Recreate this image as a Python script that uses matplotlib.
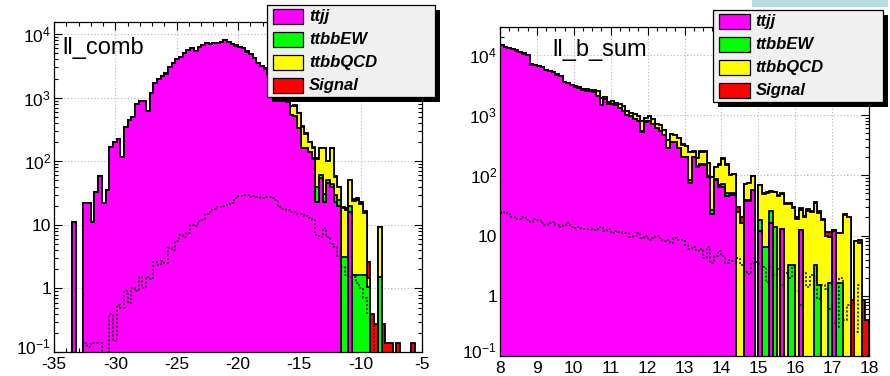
"""Stacked ttjj / ttbb / signal histograms, ROOT look, two log panels."""
import numpy as np
import matplotlib
matplotlib.use("agg")
import matplotlib.pyplot as plt
from matplotlib.patches import Rectangle
from matplotlib.transforms import ScaledTranslation
from matplotlib.ticker import FixedLocator, FixedFormatter, LogLocator, MultipleLocator, NullFormatter

plt.rcParams["font.family"] = ["Liberation Sans", "DejaVu Sans"]
plt.rcParams["mathtext.fontset"] = "custom"
plt.rcParams["mathtext.rm"] = "Liberation Sans"
plt.rcParams["mathtext.it"] = "Liberation Sans:italic"
plt.rcParams["mathtext.bf"] = "Liberation Sans:bold"

# ---------------------------------------------------------------------------
# Data (100 bins per panel)
# ---------------------------------------------------------------------------
SAMPLES = ["ttjj", "ttbbEW", "ttbbQCD", "Signal"]
COLORS = ["#ff00ff", "#00ff00", "#ffff00", "#ff0000"]

COMB_RANGE = (-35.0, -5.0)
COMB_TTJJ = [
    0, 0, 0, 0, 0, 11, 0, 0, 22, 22,
    11, 33, 58, 22, 35, 165, 200, 225, 117, 350,
    450, 500, 800, 900, 880, 620, 1200, 1700, 2000, 2200,
    2400, 3000, 3500, 4000, 4400, 5000, 5600, 6000, 5500, 6300,
    6700, 7200, 7100, 7200, 7300, 7600, 8000, 7500, 6900, 6600,
    6300, 6000, 5300, 4800, 4200, 3500, 3100, 2800, 2400, 2100,
    1800, 1450, 1150, 840, 540, 520, 330, 160, 160, 140,
    110, 23, 55, 23, 45, 40, 23, 20, 0, 0,
    16, 0, 0, 0, 0, 0, 0, 0, 0, 0,
    0, 0, 0, 0, 0, 0, 0, 0, 0, 0,
]
COMB_EW = [
    0, 0, 0, 0, 0, 0, 0, 0, 0, 0,
    0, 0, 0, 0, 0, 0, 0, 0, 0, 0,
    0, 0, 0, 0, 0, 0, 0, 0, 0, 0,
    0, 1, 1, 1, 1, 2, 2, 2, 2, 3,
    3, 3, 3, 4, 4, 4, 5, 5, 5, 5,
    6, 6, 6, 6, 6, 5, 5, 5, 5, 5,
    5, 5, 4, 3, 3, 3, 2, 2, 2, 2,
    3, 17, 5, 8, 5, 4, 7, 5, 3.1, 3.1,
    4, 1.6, 1.6, 1.6, 1.6, 1.07, 0, 0, 1.5, 0,
    0, 0, 0, 0, 0, 0, 0, 0, 0, 0,
]
COMB_QCD = [
    0, 0, 0, 0, 0, 0, 0, 0, 0, 0,
    0, 0, 0, 0, 0, 0, 0, 0, 0, 0,
    0, 0, 0, 0, 0, 0, 0, 0, 0, 0,
    1, 2, 2, 3, 3, 4, 5, 5, 6, 7,
    8, 9, 10, 11, 12, 14, 15, 16, 18, 20,
    22, 25, 30, 35, 45, 60, 80, 90, 100, 110,
    150, 180, 200, 20, 200, 230, 240, 190, 110, 60,
    50, 70, 100, 130, 50, 115, 27, 14, 15, 14,
    30, 22, 23, 20, 14, 0.4, 0, 0, 7.9, 0,
    0, 0, 0, 0, 0, 0, 0, 0, 0, 0,
]
COMB_SIG = [
    0, 0, 0, 0, 0, 0, 0, 0, 0, 0,
    0, 0, 0, 0, 0, 0, 0, 0, 0, 0,
    0, 0, 0, 0, 0, 0, 0, 0, 0, 0,
    0, 0, 0, 0, 0, 0, 0, 0, 0, 0,
    0, 0, 0, 0, 0, 0.3, 0.3, 0.4, 0.4, 0.5,
    0.5, 0.6, 0.6, 0.7, 0.8, 0.9, 1, 1, 1.2, 1.2,
    1.3, 1.4, 1.5, 1.5, 1, 1, 2, 2, 2, 2,
    2, 2, 3, 3, 2, 4, 2, 1, 1, 1,
    1, 1.5, 1.5, 1.2, 1.2, 1.1, 0.4, 0.28, 0, 0.28,
    0.14, 0.14, 0, 0.14, 0, 0, 0, 0.14, 0, 0,
]
COMB_DOTTED = [
    0, 0, 0, 0, 0, 0, 0, 0, 0.14, 0.12,
    0.14, 0.14, 0.14, 0, 0, 0.4, 0.15, 0.55, 0.5, 0.9,
    0.6, 1.0, 0.9, 1.5, 1.0, 1.5, 1.4, 2.6, 2.3, 2.7,
    2.5, 4.3, 4.0, 5.5, 7.0, 6.5, 7.5, 10, 9.5, 11.5,
    12, 15, 16, 18, 19, 19, 20, 21, 22, 26,
    28, 30, 29, 27, 28, 27, 26, 27, 27, 26,
    25, 19, 18, 17, 16, 16, 15, 15, 14, 13,
    12, 6.8, 6.5, 9, 6.5, 5, 4.5, 3.2, 2.2, 1.6,
    1.5, 1.5, 1.2, 1.0, 0.7, 0.4, 0.3, 0, 0, 0,
    0, 0, 0, 0, 0, 0, 0, 0, 0, 0,
]

BSUM_RANGE = (8.0, 18.0)
BSUM_TTJJ = [
    14500, 13500, 13000, 12300, 11800, 11000, 10500, 9800, 6900, 6700,
    6500, 6200, 5600, 5400, 5100, 4700, 4500, 3500, 3400, 3100,
    2950, 2800, 2600, 2500, 2500, 2450, 2100, 1450, 1850, 1550,
    1500, 1450, 1300, 1150, 1000, 950, 850, 800, 530, 780,
    800, 700, 600, 550, 470, 280, 360, 360, 280, 200,
    200, 75, 200, 138, 150, 150, 93, 23, 83, 65,
    65, 45, 47, 47, 0, 0, 38, 38, 57, 0,
    12, 0, 0, 16, 0, 0, 13, 0, 0, 0,
    0, 12.5, 0, 0, 0, 0, 0, 0, 0, 0,
    12, 0, 0, 0, 0, 0, 0, 0, 0, 0,
]
BSUM_EW = [
    30, 28, 27, 26, 25, 24, 23, 22, 20, 19,
    18, 17, 16, 15, 14, 13, 12, 11, 10, 10,
    9, 9, 8, 8, 8, 7, 7, 7, 6, 6,
    6, 6, 5, 5, 5, 5, 4, 4, 4, 4,
    4, 4, 3, 3, 3, 3, 3, 3, 3, 3,
    3, 9, 3, 3, 3, 3, 5, 4, 5, 3,
    6, 5, 3, 3, 0, 0, 1, 1, 1, 0,
    6, 6.5, 6.5, 10, 14, 0, 0, 0, 3.3, 3.2,
    0, 0, 0, 0, 0, 3.2, 1.5, 0, 0, 1.6,
    0, 1.6, 1.6, 0, 0, 0, 0, 0, 0, 0,
]
BSUM_QCD = [
    40, 40, 38, 36, 35, 34, 32, 30, 28, 27,
    26, 25, 24, 23, 22, 21, 20, 19, 18, 17,
    60, 70, 150, 200, 120, 150, 400, 450, 150, 120,
    200, 150, 200, 250, 150, 120, 200, 150, 250, 100,
    150, 150, 100, 120, 100, 100, 120, 100, 130, 120,
    100, 160, 45, 52, 95, 95, 62, 67, 50, 82,
    119, 100, 50, 55, 25, 16, 32, 35, 40, 0,
    50, 42, 45, 27, 38, 46, 36, 34, 30, 25,
    19, 14, 20, 26, 25, 31, 22, 18, 10, 8,
    0.5, 9.5, 9.5, 22, 20, 0, 8, 7.5, 0, 0,
]
BSUM_SIG = [
    5, 5, 5, 5, 5, 4, 4, 4, 4, 4,
    4, 4, 3, 3, 3, 3, 3, 3, 3, 3,
    3, 3, 3, 3, 3, 3, 3, 2, 2, 2,
    2, 2, 2, 2, 2, 2, 2, 2, 2, 2,
    2, 2, 2, 2, 2, 2, 2, 2, 2, 2,
    2, 2, 2, 2, 2, 2, 1.5, 1.5, 1.5, 1.5,
    1.5, 1.5, 1.5, 1.5, 5, 4, 1, 1, 1, 0,
    2, 2, 1.5, 1, 1.5, 2, 1, 1, 2, 2,
    1, 2, 1, 2, 1, 2, 2, 0.5, 1.5, 2,
    0, 0, 0, 1, 0, 0.85, 0.2, 0.8, 0.85, 0.4,
]
BSUM_DOTTED = [
    24, 25, 23, 20, 19, 19, 20, 18, 17, 19,
    18, 16, 15, 16, 17, 15, 14, 15, 16, 14,
    13.5, 14, 13, 13, 13, 12.5, 13, 14, 12, 13,
    11, 12, 11.5, 11, 11, 9.5, 10, 11, 9, 10,
    8.5, 9, 10, 9, 8, 8.5, 7.5, 9, 8.5, 8.5,
    7, 6, 6.5, 5.5, 6, 4.3, 6.5, 3.5, 4.5, 5.5,
    4.5, 3.5, 4, 3.8, 4.2, 3.3, 2.5, 2.3, 3.5, 3.6,
    3.4, 3.0, 1.7, 3.0, 2.2, 2.8, 1.5, 2.4, 2.0, 3.0,
    1.2, 0.7, 2.5, 1.4, 2.2, 1.3, 0.9, 1.5, 1.3, 0.6,
    0.35, 0.3, 2.0, 0.4, 0.7, 0, 0.25, 1.5, 0, 0,
]

YTICKS = [0.1, 1, 10, 100, 1000, 10000]
YTICK_LABELS = [r"$10^{-1}$", "1", "10", r"$10^{2}$", r"$10^{3}$", r"$10^{4}$"]
COMB_XTICKS = [-35, -30, -25, -20, -15, -10, -5]
BSUM_XTICKS = [8, 9, 10, 11, 12, 13, 14, 15, 16, 17, 18]

W, H = 890, 376
FLOOR = 1e-4


def fig_rect(x0, y0, x1, y1):
    """Pixel box (top-left origin) -> figure fraction rect."""
    return [x0 / W, 1 - y1 / H, (x1 - x0) / W, (y1 - y0) / H]


def draw_panel(ax, xrange, layers, dotted, label, label_xy, ytop, xticks, xminor):
    edges = np.linspace(xrange[0], xrange[1], len(dotted) + 1)
    tops = np.cumsum(np.array(layers, dtype=float), axis=0)
    for top, color in reversed(list(zip(tops, COLORS))):
        v = np.where(top > 0, top, FLOOR)
        ax.stairs(v, edges, baseline=FLOOR, fill=True, color=color, zorder=2)
        ax.stairs(v, edges, baseline=FLOOR, color="black", lw=1.3, zorder=2)
    d = np.asarray(dotted, dtype=float)
    ax.stairs(np.where(d > 0, d, FLOOR), edges, baseline=None, color="black",
              lw=1.1, ls=(0, (1.3, 1.3)), zorder=3)

    ax.set_yscale("log")
    ax.set_xlim(*xrange)
    ax.set_ylim(0.1, ytop)
    ax.yaxis.set_major_locator(FixedLocator(YTICKS))
    ax.yaxis.set_major_formatter(FixedFormatter(YTICK_LABELS))
    ax.yaxis.set_minor_locator(LogLocator(base=10, subs=np.arange(2, 10)))
    ax.yaxis.set_minor_formatter(NullFormatter())
    ax.xaxis.set_major_locator(FixedLocator(xticks))
    ax.xaxis.set_major_formatter(FixedFormatter([f"{t:g}" for t in xticks]))
    ax.xaxis.set_minor_locator(MultipleLocator(xminor))
    ax.tick_params(which="both", direction="in", top=True, right=True,
                   labelsize=12.5, width=0.8)
    ax.tick_params(which="major", length=6)
    ax.tick_params(which="minor", length=3)
    ax.tick_params(axis="x", pad=3.5)
    ax.tick_params(axis="y", pad=2)
    ax.set_axisbelow(True)
    ax.grid(True, which="major", color="#b4b4b4", ls=(0, (1, 2)), lw=0.8)
    for s in ax.spines.values():
        s.set_linewidth(0.9)
    ax.text(label_xy[0], label_xy[1], label, transform=ax.transAxes,
            fontsize=17, va="top", ha="left", zorder=4)
    # lift the bottom decade label a little so it clears the x labels
    low = ax.get_yticklabels()[0]
    low.set_transform(low.get_transform() + ScaledTranslation(0, 4 / 72, ax.figure.dpi_scale_trans))


def draw_legend(fig, box):
    lax = fig.add_axes(fig_rect(*box), zorder=10)
    lax.set_axis_off()
    w = box[2] - box[0]
    h = box[3] - box[1]
    lax.add_patch(Rectangle((5 / w, -5 / h), 1, 1, transform=lax.transAxes,
                            facecolor="black", edgecolor="none", clip_on=False))
    lax.add_patch(Rectangle((0, 0), 1, 1, transform=lax.transAxes,
                            facecolor="#f0f0f0", edgecolor="black", lw=0.9,
                            clip_on=False))
    for k, (name, color) in enumerate(zip(SAMPLES, COLORS)):
        yc = 0.875 - 0.25 * k
        lax.add_patch(Rectangle((0.036, yc - 0.085), 0.18, 0.17,
                                transform=lax.transAxes, facecolor=color,
                                edgecolor="black", lw=0.9, clip_on=False))
        lax.text(0.25, yc, name, transform=lax.transAxes, fontsize=12,
                 fontweight="bold", fontstyle="italic", va="center", ha="left")


fig = plt.figure(figsize=(W / 100, H / 100), dpi=100)
fig.patch.set_facecolor("white")

ax1 = fig.add_axes(fig_rect(54, 22, 422, 352))
draw_panel(ax1, COMB_RANGE, [COMB_TTJJ, COMB_EW, COMB_QCD, COMB_SIG], COMB_DOTTED,
           "ll_comb", (0.024, 0.955), 1.55e4, COMB_XTICKS, 1)

ax2 = fig.add_axes(fig_rect(500, 27, 869, 356))
draw_panel(ax2, BSUM_RANGE, [BSUM_TTJJ, BSUM_EW, BSUM_QCD, BSUM_SIG], BSUM_DOTTED,
           "ll_b_sum", (0.141, 0.965), 2.9e4, BSUM_XTICKS, 0.25)

draw_legend(fig, (267, 5, 435, 97))
draw_legend(fig, (713, 10, 883, 102))

# strip of the canvas above the pads
fig.patches.append(Rectangle((752 / W, 1 - 7 / H), 136 / W, 7 / H,
                             transform=fig.transFigure, facecolor="#b4dce1",
                             edgecolor="none"))

fig.savefig("out.png", dpi=100)
